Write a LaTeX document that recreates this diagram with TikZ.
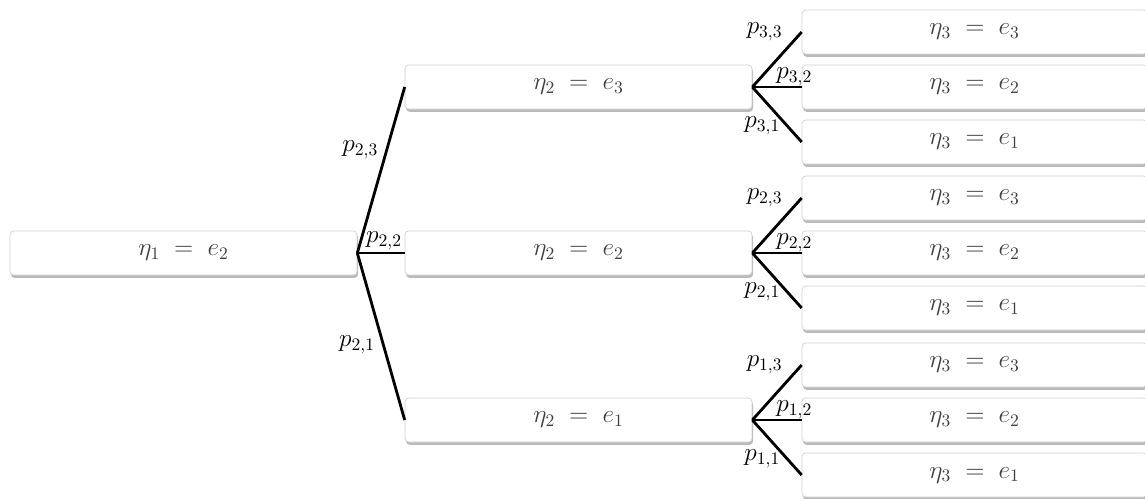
\documentclass[tikz,border=0pt]{standalone}
\usetikzlibrary{positioning,shadows}
\definecolor{boxline}{HTML}{CFCFCF}
\definecolor{boxtext}{HTML}{404040}

\begin{document}
\begin{tikzpicture}[
  x=0.02cm, y=-0.02cm,
  box/.style={rectangle, rounded corners=2pt, draw=boxline, fill=white, thin,
              minimum width=6.94cm, minimum height=0.88cm, inner sep=0pt,
              drop shadow={shadow xshift=0.6pt, shadow yshift=-1.6pt, fill=black!45, opacity=0.6},
              font=\fontsize{14.5}{16}\selectfont, text=boxtext},
  branch/.style={line width=1.6pt},
  prob/.style={font=\fontsize{14}{16}\selectfont, inner sep=1pt},
]
  \useasboundingbox (0,0) rectangle (1145,498);

  % first step
  \node[box] (root) at (183.5,253) {$\eta_1 \;=\; e_2$};

  % second step
  \node[box] (s3) at (578.5,87) {$\eta_2 \;=\; e_3$};
  \node[box] (s2) at (578.5,253) {$\eta_2 \;=\; e_2$};
  \node[box] (s1) at (578.5,420) {$\eta_2 \;=\; e_1$};

  % third step
  \foreach \i/\y in {3/87,2/253,1/420}
    \foreach \j/\dy in {3/-55,2/0,1/55}
      \node[box, minimum width=6.9cm] (t\i\j) at (974.5,\y+\dy) {$\eta_3 \;=\; e_\j$};

  \draw[branch] (root.east) -- node[prob, pos=0.62, left=3pt] {$p_{2,3}$} (s3.west);
  \draw[branch] (root.east) -- node[prob, pos=0.12, above right=0pt and 0pt] {$p_{2,2}$} (s2.west);
  \draw[branch] (root.east) -- node[prob, pos=0.55, left=3pt] {$p_{2,1}$} (s1.west);

  \foreach \i in {3,2,1} {
    \draw[branch] (s\i.east) -- node[prob, at end, left=0.32cm] {$p_{\i,3}$} (t\i3.west);
    \draw[branch] (s\i.east) -- node[prob, pos=0.85, above=-1pt] {$p_{\i,2}$} (t\i2.west);
    \draw[branch] (s\i.east) -- node[prob, pos=0.7, left=2pt] {$p_{\i,1}$} (t\i1.west);
  }
\end{tikzpicture}
\end{document}
